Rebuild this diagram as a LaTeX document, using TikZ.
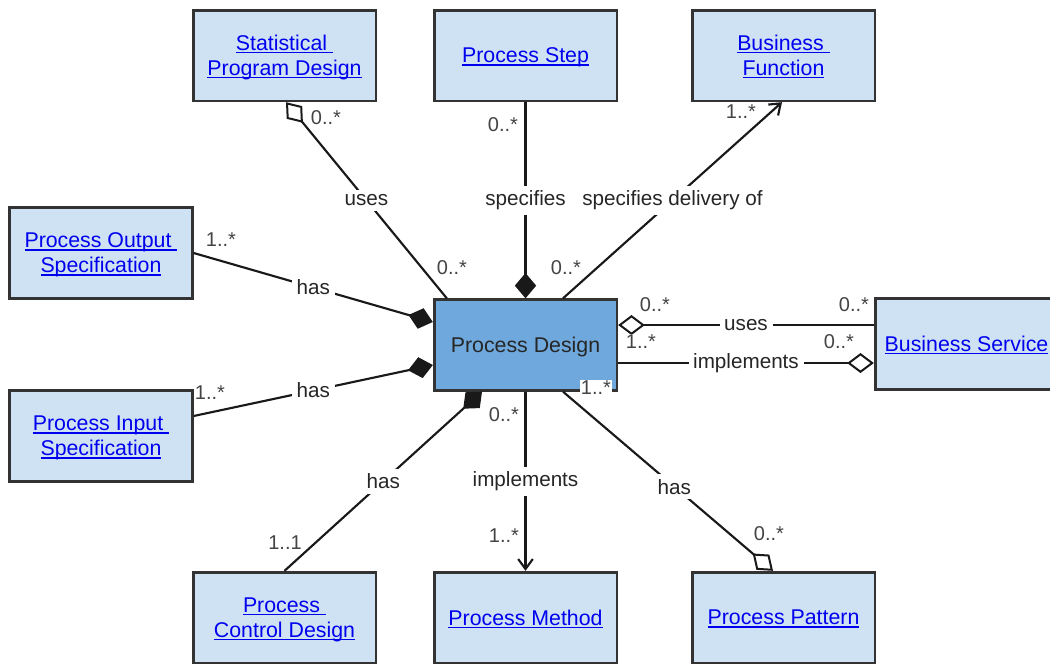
\documentclass[tikz,border=0pt]{standalone}
\usepackage{fontspec}
\setmainfont{Liberation Sans}
\usetikzlibrary{arrows.meta,positioning,calc}
\definecolor{clsfill}{HTML}{CFE2F3}
\definecolor{mainfill}{HTML}{6FA8DC}
\definecolor{edgegray}{HTML}{333333}
\definecolor{linkblue}{HTML}{0000EE}
\definecolor{multgray}{HTML}{444444}
\newcommand{\lnk}[1]{\leavevmode\setbox0\hbox{#1}\rlap{\rule[-2pt]{\wd0}{0.9pt}}\box0}

\begin{document}
\begin{tikzpicture}[x=0.75pt,y=-0.75pt,
	cls/.style={draw=edgegray, line width=2pt, fill=clsfill, minimum width=137pt, minimum height=68pt,
		align=center, inner sep=2pt, text depth=-1.5pt, text=linkblue, font=\fontsize{16}{18.75}\selectfont},
	main/.style={cls, fill=mainfill, text=black!85},
	conn/.style={line width=1.6pt, black!90},
	lbl/.style={fill=white, inner sep=3.5pt, text=black!85, font=\fontsize{15.5}{18}\selectfont},
	mult/.style={fill=white, inner sep=1pt, text=multgray, font=\fontsize{15}{16}\selectfont},
	fdia/.tip={Diamond[length=19pt,width=16pt]},
	odia/.tip={Diamond[open,length=20pt,width=15pt,line width=1.5pt]},
	barb/.tip={Straight Barb[length=7.5pt,width=11pt,line width=1.6pt]}]
	\useasboundingbox (0,0) rectangle (1050,665);

	\node[cls] (spd) at (284.5,55.5) {\lnk{Statistical\ }\\\lnk{Program Design}};
	\node[cls] (step) at (525.5,55.5) {\lnk{Process Step}};
	\node[cls] (bfun) at (783.5,55.5) {\lnk{Business\ }\\\lnk{Function}};
	\node[cls] (pout) at (101,253) {\lnk{Process Output\ }\\\lnk{Specification}};
	\node[main] (pdes) at (525.5,345) {Process Design};
	\node[cls] (bsvc) at (966.5,344) {\lnk{Business Service}};
	\node[cls] (pin) at (101,436) {\lnk{Process Input\ }\\\lnk{Specification}};
	\node[cls] (pcd) at (284.5,617.5) {\lnk{Process\ }\\\lnk{Control Design}};
	\node[cls] (pmeth) at (525.5,617.5) {\lnk{Process Method}};
	\node[cls] (ppat) at (783.5,617.5) {\lnk{Process Pattern}};

	\draw[conn, -odia] ($(pdes.north west)+(14,0)$) -- node[lbl] {uses} ($(spd.south)+(1.5,0)$);
	\draw[conn, fdia-] (pdes.north) -- node[lbl] {specifies} (step.south);
	\draw[conn, -barb] ($(pdes.north)+(37.5,0)$) -- node[lbl] {specifies delivery of} ($(bfun.south)+(-1.5,0)$);
	\draw[conn, fdia-] ($(pdes.west)+(0,-23)$) -- node[lbl] {has} (pout.east);
	\draw[conn, fdia-] ($(pdes.west)+(0,20)$) -- node[lbl] {has} ($(pin.east)+(0,-20)$);
	\draw[conn, fdia-] ($(pdes.south)+(-43.5,0)$) -- node[lbl] {has} (pcd.north);
	\draw[conn, -barb] (pdes.south) -- node[lbl] {implements} (pmeth.north);
	\draw[conn, -odia] ($(pdes.south)+(37.5,0)$) -- node[lbl, pos=0.53] {has} ($(ppat.north)+(-10.5,0)$);
	\draw[conn, odia-] ($(pdes.east)+(0,-20)$) -- node[lbl] {uses} ($(bsvc.west)+(0,-19)$);
	\draw[conn, -odia] ($(pdes.east)+(0,18)$) -- node[lbl] {implements} ($(bsvc.west)+(0,19)$);

	\node[mult] (m-spd) at (326,118) {0..*};
	\node[mult] (m-uses) at (452,268) {0..*};
	\node[mult] (m-step) at (503,125) {0..*};
	\node[mult] (m-spec) at (566,268) {0..*};
	\node[mult] (m-bfun) at (741,112) {1..*};
	\node[mult] (m-pout) at (221,240) {1..*};
	\node[mult] (m-pin) at (210,393) {1..*};
	\node[mult] (m-pcd) at (285,543) {1..1};
	\node[mult] (m-impl) at (504,415) {0..*};
	\node[mult] (m-pmeth) at (504,536) {1..*};
	\node[mult] (m-has) at (596,388) {1..*};
	\node[mult] (m-ppat) at (769,534) {0..*};
	\node[mult] (m-suses) at (655,305) {0..*};
	\node[mult] (m-bsvc1) at (854,305) {0..*};
	\node[mult] (m-simpl) at (641,342) {1..*};
	\node[mult] (m-bsvc2) at (839,342) {0..*};
\end{tikzpicture}
\end{document}
